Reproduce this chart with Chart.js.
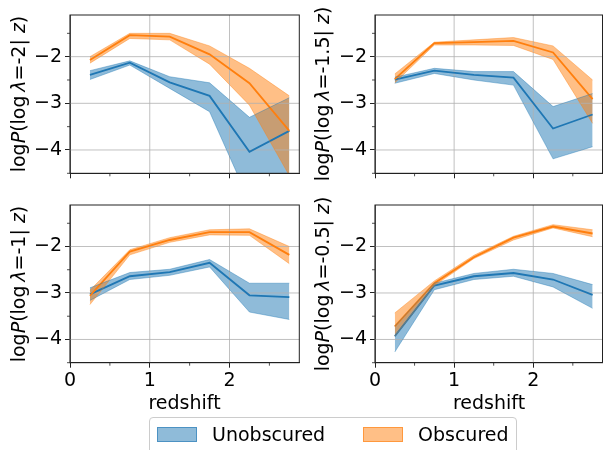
<!DOCTYPE html>
<html>
<head>
<meta charset="utf-8">
<script src="https://cdn.jsdelivr.net/npm/chart.js@4.4.1/dist/chart.umd.min.js"></script>
<style>
  html, body { margin: 0; padding: 0; background: #fff; }
  body { position: relative; width: 603px; height: 450px; overflow: hidden; font-family: "DejaVu Sans", sans-serif; color: #000; }
  canvas { position: absolute; }
  .ylab { position: absolute; white-space: nowrap; font-size: 19px; line-height: 19px; transform: translate(-50%, -50%) rotate(-90deg); }
  .xlab { position: absolute; font-size: 19px; line-height: 19px; transform: translateX(-50%); white-space: nowrap; }
  #legend { position: absolute; left: 149px; top: 417px; width: 366px; height: 40px; border: 1px solid #cccccc; border-radius: 4px; background: #fff; }
  .item { position: absolute; top: 0; height: 32px; display: flex; align-items: center; font-size: 19px; }
  .patch { width: 38px; height: 13px; margin-right: 15px; }
</style>
</head>
<body>
<canvas id="c0" width="303" height="195" style="left:0;top:0"></canvas>
<canvas id="c1" width="302" height="195" style="left:303px;top:0"></canvas>
<canvas id="c2" width="303" height="215" style="left:0;top:190px"></canvas>
<canvas id="c3" width="302" height="215" style="left:303px;top:190px"></canvas>

<div class="ylab" style="left:18px;top:94px">log<i>P</i>(log&#8201;<i>λ</i>=-2| <i>z</i>)</div>
<div class="ylab" style="left:322px;top:94px">log<i>P</i>(log&#8201;<i>λ</i>=-1.5| <i>z</i>)</div>
<div class="ylab" style="left:18px;top:284px">log<i>P</i>(log&#8201;<i>λ</i>=-1| <i>z</i>)</div>
<div class="ylab" style="left:322px;top:284px">log<i>P</i>(log&#8201;<i>λ</i>=-0.5| <i>z</i>)</div>

<div class="xlab" style="left:184.5px;top:393px">redshift</div>
<div class="xlab" style="left:489px;top:393px">redshift</div>

<div id="legend">
  <div class="item" style="left:7px"><div class="patch" style="background:rgba(31,119,180,0.5);border:1px solid rgba(31,119,180,0.6)"></div>Unobscured</div>
  <div class="item" style="left:213px"><div class="patch" style="background:rgba(255,127,14,0.5);border:1px solid rgba(255,127,14,0.6)"></div>Obscured</div>
</div>

<script>
const redshift = [0.25, 0.75, 1.25, 1.75, 2.25, 2.75];

// log lambda = -2
const obsMid_2  = [-2.07, -1.54, -1.57, -1.95, -2.57, -3.59];
const obsHi_2   = [-2.00, -1.50, -1.50, -1.77, -2.25, -2.84];
const obsLo_2   = [-2.14, -1.61, -1.64, -2.16, -3.04, -4.55];
const unobsMid_2 = [-2.39, -2.13, -2.55, -2.84, -4.04, -3.59];
const unobsHi_2  = [-2.30, -2.09, -2.43, -2.56, -3.30, -2.88];
const unobsLo_2  = [-2.49, -2.18, -2.68, -3.18, -5.10, -4.90];

// log lambda = -1.5
const obsMid_15  = [-2.48, -1.71, -1.69, -1.66, -1.91, -2.91];
const obsHi_15   = [-2.37, -1.69, -1.64, -1.59, -1.77, -2.50];
const obsLo_15   = [-2.56, -1.75, -1.75, -1.76, -2.06, -3.43];
const unobsMid_15 = [-2.49, -2.30, -2.39, -2.45, -3.54, -3.24];
const unobsHi_15  = [-2.44, -2.25, -2.32, -2.32, -3.07, -2.79];
const unobsLo_15  = [-2.57, -2.36, -2.50, -2.61, -4.19, -3.93];

// log lambda = -1
const obsMid_1  = [-3.06, -2.11, -1.86, -1.69, -1.69, -2.18];
const obsHi_1   = [-2.94, -2.07, -1.81, -1.64, -1.62, -2.00];
const obsLo_1   = [-3.25, -2.18, -1.91, -1.75, -1.76, -2.37];
const unobsMid_1 = [-3.03, -2.64, -2.55, -2.35, -3.05, -3.09];
const unobsHi_1  = [-2.89, -2.56, -2.49, -2.28, -2.79, -2.79];
const unobsLo_1  = [-3.16, -2.71, -2.62, -2.44, -3.41, -3.57];

// log lambda = -0.5
const obsMid_05  = [-3.72, -2.79, -2.23, -1.81, -1.57, -1.72];
const obsHi_05   = [-3.43, -2.74, -2.19, -1.78, -1.53, -1.64];
const obsLo_05   = [-3.93, -2.84, -2.26, -1.86, -1.60, -1.79];
const unobsMid_05 = [-3.93, -2.84, -2.64, -2.57, -2.71, -3.04];
const unobsHi_05  = [-3.72, -2.79, -2.58, -2.49, -2.58, -2.82];
const unobsLo_05  = [-4.27, -2.93, -2.71, -2.64, -2.87, -3.33];

const xMajor = [0, 1, 2];
const xMinor = [0.5, 1.5, 2.5];
const yMajor = [-4, -3, -2];
const yMinor = [-4.5, -3.5, -2.5, -1.5];

const BLUE = '#1f77b4', ORANGE = '#ff7f0e';
const BLUE_A = 'rgba(31,119,180,0.5)', ORANGE_A = 'rgba(255,127,14,0.5)';

const panels = [
  { id: 'c0', obs: [obsMid_2, obsHi_2, obsLo_2], unobs: [unobsMid_2, unobsHi_2, unobsLo_2], xlabels: false,
    pad: { left: 10, top: 15, right: 3.7, bottom: 11.7 }, xh: 10 },
  { id: 'c1', obs: [obsMid_15, obsHi_15, obsLo_15], unobs: [unobsMid_15, unobsHi_15, unobsLo_15], xlabels: false,
    pad: { left: 12, top: 15, right: 2.5, bottom: 11.7 }, xh: 10 },
  { id: 'c2', obs: [obsMid_1, obsHi_1, obsLo_1], unobs: [unobsMid_1, unobsHi_1, unobsLo_1], xlabels: true,
    pad: { left: 10, top: 15, right: 3.7, bottom: 12.3 }, xh: 30 },
  { id: 'c3', obs: [obsMid_05, obsHi_05, obsLo_05], unobs: [unobsMid_05, unobsHi_05, unobsLo_05], xlabels: true,
    pad: { left: 12, top: 15, right: 2.5, bottom: 12.3 }, xh: 30 }
];

const pts = ys => redshift.map((x, i) => ({ x, y: ys[i] }));

// grid above the bands, below the lines (matplotlib zorder)
const gridPlugin = {
  id: 'mplGrid',
  beforeDatasetsDraw(chart) {
    const { ctx, chartArea: a, scales: { x, y } } = chart;
    ctx.save();
    ctx.strokeStyle = '#b0b0b0';
    ctx.lineWidth = 0.8;
    ctx.beginPath();
    xMajor.forEach(v => { const px = x.getPixelForValue(v); ctx.moveTo(px, a.top); ctx.lineTo(px, a.bottom); });
    yMajor.forEach(v => { const py = y.getPixelForValue(v); ctx.moveTo(a.left, py); ctx.lineTo(a.right, py); });
    ctx.stroke();
    ctx.restore();
  },
  afterDraw(chart) {
    const { ctx, chartArea: a, scales: { x, y } } = chart;
    ctx.save();
    ctx.strokeStyle = '#222';
    ctx.lineWidth = 0.8;
    ctx.beginPath();
    xMinor.forEach(v => { const px = x.getPixelForValue(v); ctx.moveTo(px, a.bottom); ctx.lineTo(px, a.bottom + 3); });
    yMinor.forEach(v => { const py = y.getPixelForValue(v); ctx.moveTo(a.left, py); ctx.lineTo(a.left - 3, py); });
    ctx.stroke();
    ctx.lineWidth = 1;
    ctx.strokeRect(a.left, a.top, a.right - a.left, a.bottom - a.top);
    ctx.restore();
  }
};

const tickFont = { family: 'DejaVu Sans', size: 19 };

panels.forEach(p => {
  const band = (ys, col, fill) => ({
    data: pts(ys), borderColor: col, borderWidth: 0.8, backgroundColor: col,
    fill, pointRadius: 0, tension: 0
  });
  const line = (ys, col) => ({
    data: pts(ys), borderColor: col, borderWidth: 1.8, fill: false, pointRadius: 0, tension: 0
  });

  new Chart(document.getElementById(p.id), {
    type: 'line',
    data: {
      datasets: [
        band(p.obs[1], ORANGE_A, '+1'),
        band(p.obs[2], ORANGE_A, false),
        band(p.unobs[1], BLUE_A, '+1'),
        band(p.unobs[2], BLUE_A, false),
        line(p.obs[0], ORANGE),
        line(p.unobs[0], BLUE)
      ]
    },
    options: {
      responsive: false,
      devicePixelRatio: 1,
      animation: false,
      layout: { padding: p.pad },
      plugins: {
        legend: { display: false },
        tooltip: { enabled: false },
        filler: { drawTime: 'beforeDatasetsDraw' }
      },
      scales: {
        x: {
          type: 'linear', min: 0, max: 2.875,
          afterBuildTicks: s => { s.ticks = xMajor.map(v => ({ value: v })); },
          afterFit: s => { s.height = p.xh; },
          grid: { color: 'rgba(0,0,0,0)', tickColor: '#222', tickLength: 5, tickWidth: 1 },
          border: { display: true, color: '#222', width: 1 },
          ticks: { display: p.xlabels, color: '#000', font: tickFont, padding: 2, maxRotation: 0, autoSkip: false,
                   callback: v => String(v) }
        },
        y: {
          min: -4.5, max: -1.107,
          afterBuildTicks: s => { s.ticks = yMajor.map(v => ({ value: v })); },
          afterFit: s => { s.width = 60; },
          grid: { color: 'rgba(0,0,0,0)', tickColor: '#222', tickLength: 5, tickWidth: 1 },
          border: { display: true, color: '#222', width: 1 },
          ticks: { color: '#000', font: tickFont, padding: 3, autoSkip: false,
                   callback: v => '\u2212' + Math.abs(v) }
        }
      }
    },
    plugins: [gridPlugin]
  });
});
</script>
</body>
</html>
